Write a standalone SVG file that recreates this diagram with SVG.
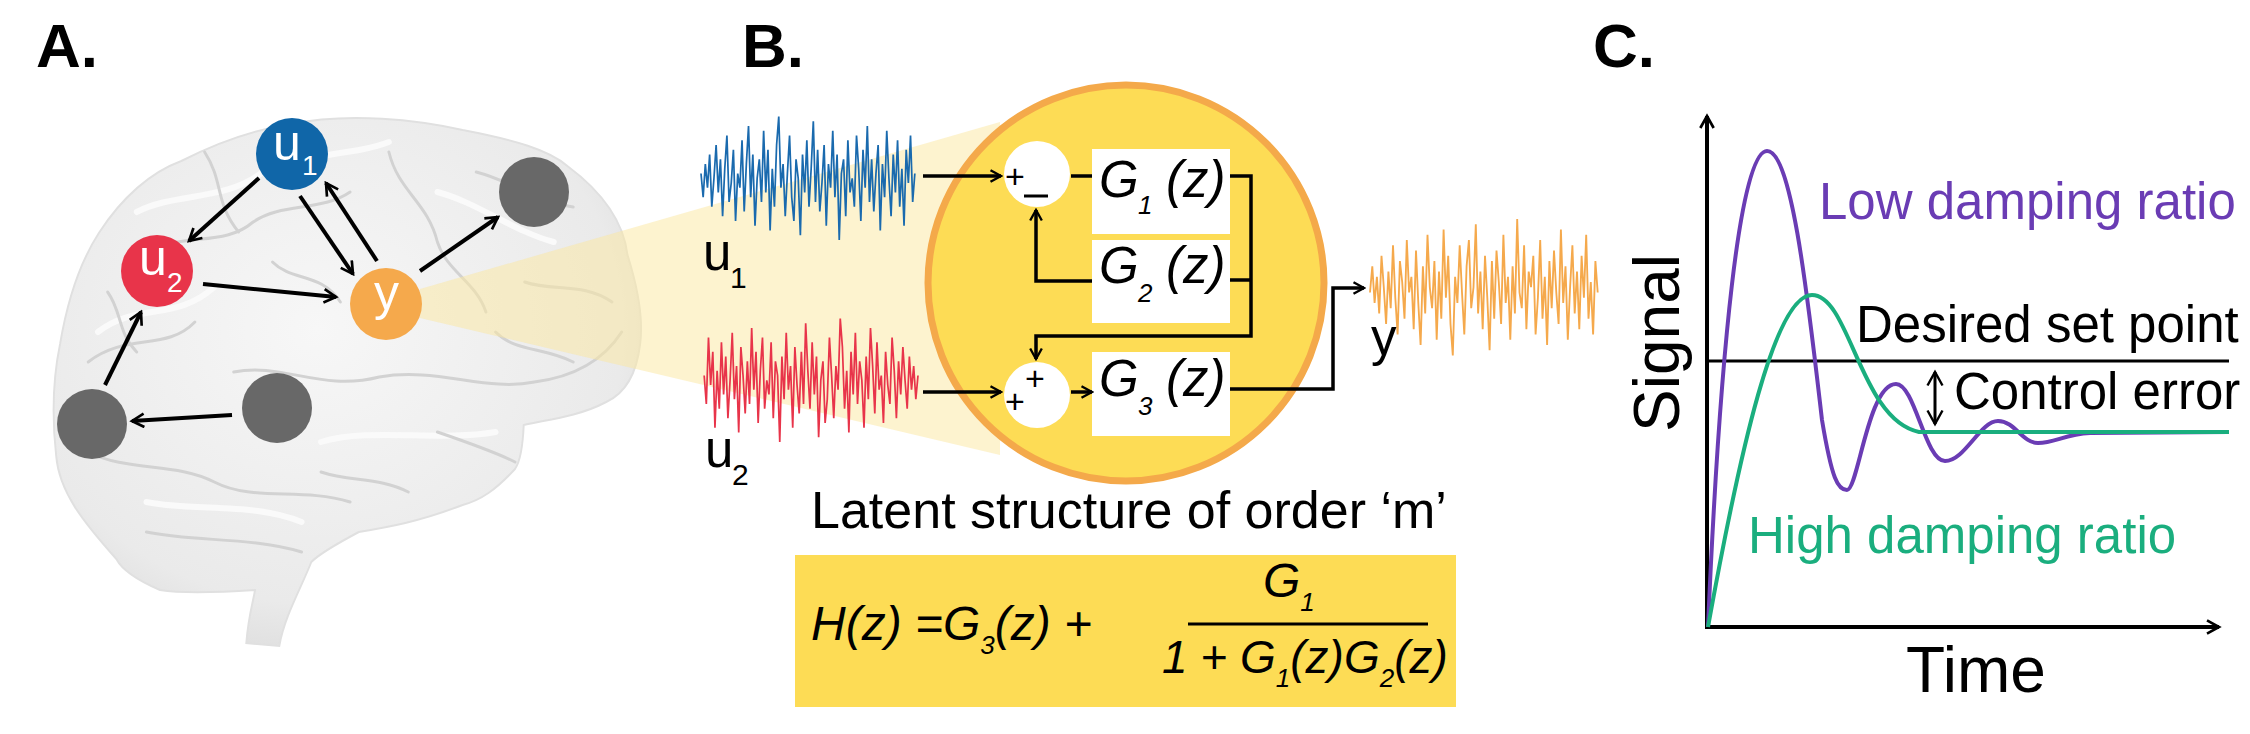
<svg xmlns="http://www.w3.org/2000/svg" width="2250" height="734" viewBox="0 0 2250 734">
<style>
text{font-family:"Liberation Sans",Arial,sans-serif;}
.lbl{font-size:62px;font-weight:bold;fill:#000;}
.conn{stroke:#000;stroke-width:4;fill:none;}
.thin{stroke:#000;stroke-width:3.5;fill:none;}
.arr{stroke:#000;stroke-width:4;fill:none;}
.gray{fill:#686868;}
.nt{fill:#fff;font-size:50px;}
.ns{fill:#fff;font-size:28px;}
.gb{fill:#fff;}
.gt{font-size:51px;font-style:italic;}
.gs{font-size:26px;font-style:italic;}
.sig{stroke-width:1.6;fill:none;vector-effect:non-scaling-stroke;}
.pm{font-size:34px;}
.big{font-size:51px;}
.sul{fill:none;stroke:#D2D2D2;stroke-width:3;stroke-linecap:round;}
.hi{fill:none;stroke:#FAFAFA;stroke-width:6;stroke-linecap:round;}
</style>
<defs>
<marker id="ah" viewBox="0 0 12 12" refX="10" refY="6" markerWidth="4" markerHeight="4" orient="auto" markerUnits="strokeWidth">
<path d="M1,1 L10,6 L1,11" fill="none" stroke="#000" stroke-width="2"/>
</marker>
<marker id="ah2" viewBox="0 0 12 12" refX="10" refY="6" markerWidth="4" markerHeight="4" orient="auto" markerUnits="strokeWidth">
<path d="M1,1 L10,6 L1,11" fill="none" stroke="#000" stroke-width="2"/>
</marker>
<marker id="ah3" viewBox="0 0 12 12" refX="10" refY="6" markerWidth="6" markerHeight="6" orient="auto-start-reverse" markerUnits="strokeWidth">
<path d="M1,1 L10,6 L1,11" fill="none" stroke="#000" stroke-width="1.6"/>
</marker>
<radialGradient id="bg" cx="0.45" cy="0.4" r="0.65">
<stop offset="0" stop-color="#F7F7F7"/><stop offset="0.8" stop-color="#EAEAEA"/><stop offset="1" stop-color="#DCDCDC"/>
</radialGradient>
<path id="noise" d="M0,-10 L2,15 L4,-20 L6,5 L8,-30 L10,25 L12,-5 L14,-40 L16,10 L18,-25 L20,35 L22,-15 L24,-50 L26,20 L28,0 L30,-35 L32,40 L34,-10 L36,5 L38,-45 L40,30 L42,-20 L44,-60 L46,15 L48,-30 L50,45 L52,-5 L54,-25 L56,20 L58,-55 L60,10 L62,-35 L64,50 L66,-15 L68,25 L70,-40 L72,-70 L74,5 L76,-20 L78,35 L80,-10 L82,-50 L84,15 L86,40 L88,-25 L90,-5 L92,55 L94,-30 L96,10 L98,-45 L100,25 L102,-15 L104,-65 L106,20 L108,-35 L110,30 L112,0 L114,-40 L116,45 L118,-20 L120,5 L122,-55 L124,15 L126,-30 L128,60 L130,-10 L132,-25 L134,35 L136,-45 L138,10 L140,-5 L142,25 L144,-50 L146,-15 L148,40 L150,-35 L152,5 L154,-60 L156,20 L158,-25 L160,30 L162,-10 L164,-40 L166,50 L168,-20 L170,15 L172,-55 L174,-5 L176,35 L178,-30 L180,10 L182,-45 L184,25 L186,-15 L188,45 L190,-35 L192,0 L194,-50 L196,20 L198,-10"/>
</defs>
<rect width="2250" height="734" fill="#fff"/>

<!-- Panel A -->
<text class="lbl" x="36" y="67">A.</text>
<g id="brain" transform="translate(30,32) scale(0.97,1)">
<path d="M268,92 C330,80 400,88 446,98 C500,108 535,118 554,134 C590,160 612,190 616,223 C628,260 632,290 629,312 C625,345 612,362 594,370 C565,385 530,388 509,393 C508,415 505,430 500,437 C480,458 465,468 446,473 C400,490 370,495 339,500 C310,515 295,525 290,530 C280,555 262,585 257,614 L223,611 C225,585 230,570 232,558 C200,560 160,562 134,558 C110,548 95,538 89,527 C55,490 30,460 27,424 C22,380 25,340 31,312 C40,260 55,225 71,201 C95,165 125,140 156,129 C190,112 230,98 268,92 Z" fill="url(#bg)" stroke="#E0E0E0" stroke-width="2"/>
<path class="hi" d="M110,180 C150,160 200,170 240,140 C280,120 330,125 370,110"/>
<path class="hi" d="M70,300 C110,270 150,290 190,255"/>
<path class="hi" d="M300,410 C350,395 420,410 480,400"/>
<path class="hi" d="M120,470 C170,480 230,470 280,490"/>
<path class="hi" d="M420,160 C460,170 500,200 540,210"/>
<path class="sul" d="M120,220 C160,200 200,215 230,190 C260,170 300,180 330,160"/>
<path class="sul" d="M60,330 C100,300 140,320 170,290"/>
<path class="sul" d="M210,340 C260,330 300,360 360,345 C420,335 470,360 520,350 C560,345 590,330 610,300"/>
<path class="sul" d="M370,120 C380,160 410,170 420,210 C430,240 460,250 470,280"/>
<path class="sul" d="M460,140 C500,150 520,170 560,175"/>
<path class="sul" d="M60,420 C100,440 150,430 190,450 C230,470 280,455 330,470"/>
<path class="sul" d="M120,500 C170,510 230,505 280,520"/>
<path class="sul" d="M250,230 C270,250 300,240 320,270"/>
<path class="sul" d="M420,400 C450,410 480,420 500,430"/>
<path class="sul" d="M510,250 C540,260 570,250 600,270"/>
<path class="sul" d="M80,260 C95,280 90,300 110,320"/>
<path class="sul" d="M300,440 C330,450 360,445 390,460"/>
<path class="sul" d="M480,300 C500,320 530,315 560,330"/>
<path class="sul" d="M180,120 C200,150 190,170 215,200"/>
</g>
<polygon id="wedge" points="420,289 1000,122 1000,455 420,318" fill="#FCE7A0" fill-opacity="0.5"/>

<g id="connectorsA">
<line class="arr" x1="259" y1="178" x2="189" y2="241" marker-end="url(#ah2)"/>
<line class="arr" x1="300" y1="196" x2="353" y2="274" marker-end="url(#ah2)"/>
<line class="arr" x1="377" y1="261" x2="326" y2="183" marker-end="url(#ah2)"/>
<line class="arr" x1="203" y1="284" x2="336" y2="297" marker-end="url(#ah2)"/>
<line class="arr" x1="420" y1="271" x2="498" y2="217" marker-end="url(#ah2)"/>
<line class="arr" x1="105" y1="385" x2="141" y2="312" marker-end="url(#ah2)"/>
<line class="arr" x1="232" y1="415" x2="132" y2="421" marker-end="url(#ah2)"/>
</g>
<g id="node-u1"><circle cx="292" cy="154" r="36" fill="#1066A8"/><text class="nt" x="273" y="160">u</text><text class="ns" x="302" y="175">1</text></g>
<g id="node-u2"><circle cx="157" cy="271" r="36" fill="#E8344A"/><text class="nt" x="139" y="275">u</text><text class="ns" x="167" y="292">2</text></g>
<g id="node-y"><circle cx="386" cy="304" r="36" fill="#F5A94C"/><text class="nt" x="374" y="310">y</text></g>
<g id="node-g1"><circle class="gray" cx="534" cy="192" r="35"/></g>
<g id="node-g2"><circle class="gray" cx="92" cy="424" r="35"/></g>
<g id="node-g3"><circle class="gray" cx="277" cy="408" r="35"/></g>

<!-- Panel B -->
<text class="lbl" x="742" y="67">B.</text>
<g id="signals">
<use href="#noise" class="sig" stroke="#1A6AAE" transform="translate(701,183) scale(1.08,0.95)"/>
<use href="#noise" class="sig" stroke="#E8344A" transform="translate(918,385) scale(-1.08,0.95)"/>
<use href="#noise" class="sig" stroke="#F5A94C" transform="translate(1370,282) scale(1.15,-1.05)"/>
<text class="big" x="703" y="270">u</text><text x="730" y="288" style="font-size:30px">1</text>
<text class="big" x="705" y="467">u</text><text x="732" y="485" style="font-size:30px">2</text>
<text class="big" x="1371" y="355">y</text>
</g>
<g id="system">
<circle cx="1126" cy="283" r="198" fill="#FDDC55" stroke="#F4A94A" stroke-width="7"/>
</g>
<g id="sum1"><circle cx="1037" cy="174" r="33" fill="#fff"/><text class="pm" x="1005" y="188">+</text><line x1="1024" y1="196" x2="1048" y2="196" stroke="#000" stroke-width="3"/></g>
<g id="sum2"><circle cx="1037" cy="395" r="33" fill="#fff"/><text class="pm" x="1005" y="413">+</text><text class="pm" x="1025" y="390">+</text></g>
<g id="G1"><rect class="gb" x="1092" y="149" width="138" height="85"/><text class="gt" x="1099" y="197">G</text><text class="gs" x="1138" y="214">1</text><text class="gt" x="1166" y="197">(z)</text></g>
<g id="G2"><rect class="gb" x="1092" y="240" width="138" height="83"/><text class="gt" x="1099" y="283">G</text><text class="gs" x="1138" y="302">2</text><text class="gt" x="1166" y="283">(z)</text></g>
<g id="G3"><rect class="gb" x="1092" y="352" width="138" height="84"/><text class="gt" x="1099" y="396">G</text><text class="gs" x="1138" y="415">3</text><text class="gt" x="1166" y="396">(z)</text></g>
<g id="connectorsB">
<line class="thin" x1="923" y1="176" x2="1001" y2="176" marker-end="url(#ah)"/>
<line class="thin" x1="1071" y1="176" x2="1092" y2="176"/>
<polyline class="thin" points="1230,176 1251,176 1251,336 1036,336 1036,359" marker-end="url(#ah)"/>
<line class="thin" x1="1230" y1="280" x2="1251" y2="280"/>
<polyline class="thin" points="1092,281 1036,281 1036,210" marker-end="url(#ah)"/>
<line class="thin" x1="923" y1="392" x2="1001" y2="392" marker-end="url(#ah)"/>
<line class="thin" x1="1071" y1="392" x2="1092" y2="392" marker-end="url(#ah)"/>
<polyline class="thin" points="1230,389 1333,389 1333,288 1364,288" marker-end="url(#ah)"/>
</g>
<text x="811" y="528" style="font-size:52px">Latent structure of order ‘m’</text>
<g id="formula">
<rect x="795" y="555" width="661" height="152" fill="#FDDC55"/>
<g style="font-style:italic;font-size:48px">
<text x="811" y="640">H(z) =G<tspan dy="14" style="font-size:26px">3</tspan><tspan dy="-14">(z) +</tspan></text>
<text x="1263" y="597">G<tspan dy="14" style="font-size:26px">1</tspan></text>
<line x1="1188" y1="624" x2="1428" y2="624" stroke="#000" stroke-width="3"/>
<text x="1162" y="673" style="font-size:46px">1 + G<tspan dy="14" style="font-size:26px">1</tspan><tspan dy="-14">(z)G</tspan><tspan dy="14" style="font-size:26px">2</tspan><tspan dy="-14">(z)</tspan></text>
</g>
</g>

<!-- Panel C -->
<text class="lbl" x="1593" y="67">C.</text>
<g id="chart">
<line class="conn" x1="1707" y1="629" x2="1707" y2="116" marker-end="url(#ah)"/>
<line class="conn" x1="1705" y1="627" x2="2219" y2="627" marker-end="url(#ah)"/>
<line x1="1707" y1="361" x2="2229" y2="361" stroke="#000" stroke-width="3"/>
<path d="M1708,627 C1720,350 1740,151 1767,151 C1792,151 1808,300 1822,420 C1832,480 1838,490 1847,490 C1858,490 1868,384 1896,384 C1915,384 1925,461 1945,461 C1965,461 1980,421 1998,421 C2015,421 2022,443 2038,443 C2055,443 2065,434 2090,433 L2229,432" fill="none" stroke="#6A3CB4" stroke-width="4"/>
<path d="M1708,627 C1740,450 1775,295 1812,295 C1850,295 1860,420 1919,432 L2229,432" fill="none" stroke="#1AAE7E" stroke-width="4"/>
<line x1="1935" y1="372" x2="1935" y2="424" stroke="#000" stroke-width="3" marker-start="url(#ah3)" marker-end="url(#ah3)"/>
<text class="big" x="1819" y="219" fill="#6A3CB4">Low damping ratio</text>
<text class="big" x="1748" y="553" fill="#1AAE7E">High damping ratio</text>
<text class="big" x="1856" y="342">Desired set point</text>
<text class="big" x="1954" y="409">Control error</text>
<text x="1976" y="692" style="font-size:64px" text-anchor="middle">Time</text>
<text x="1679" y="343" style="font-size:64px" text-anchor="middle" transform="rotate(-90 1679 343)">Signal</text>
</g>
</svg>
